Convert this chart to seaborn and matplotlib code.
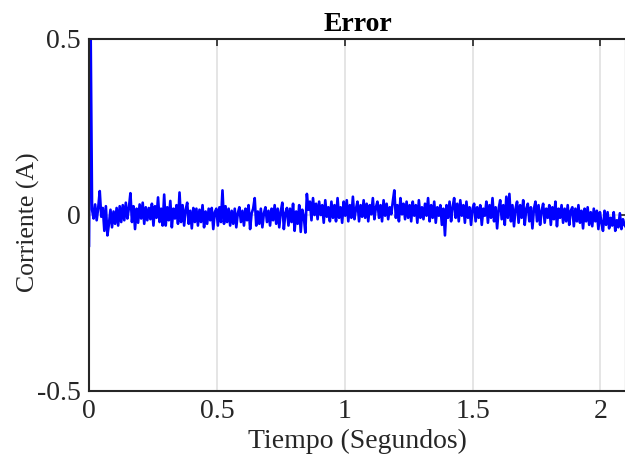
import numpy as np
import pandas as pd
import matplotlib
matplotlib.use("Agg")
import matplotlib.pyplot as plt
import seaborn as sns

title = "Error"
xlabel = "Tiempo (Segundos)"
ylabel = "Corriente (A)"
xticks = [0, 0.5, 1, 1.5, 2]
xtick_labels = ["0", "0.5", "1", "1.5", "2"]
yticks = [-0.5, 0, 0.5]
ytick_labels = ["-0.5", "0", "0.5"]
dt = 0.006

error_values = [
    -0.09, 0.56, 0.015, -0.01, 0.03, -0.015, 0.02, 0.068, -0.005, 0.02,
    -0.045, 0.025, -0.058, -0.025, 0.015, -0.035, 0.01, -0.025, 0.02, -0.03,
    0.025, -0.02, 0.028, -0.015, 0.035, -0.01, 0.02, 0.062, -0.02, 0.025,
    -0.04, 0.018, -0.022, 0.03, -0.01, 0.035, -0.025, 0.022, -0.015, 0.02,
    -0.012, 0.032, -0.03, 0.025, -0.008, 0.05, -0.02, 0.018, -0.03, 0.058,
    -0.03, 0.022, -0.015, 0.04, -0.035, 0.018, -0.01, 0.028, -0.025, 0.064,
    -0.02, 0.028, -0.03, 0.015, 0.035, -0.025, 0.012, -0.038, 0.02, -0.02,
    0.018, -0.03, 0.015, -0.02, 0.028, -0.035, 0.01, -0.025, 0.018, -0.015,
    0.02, -0.04, 0.008, 0.018, -0.03, 0.022, -0.02, 0.07, -0.025, 0.025,
    -0.02, 0.018, -0.03, 0.012, -0.025, 0.018, -0.035, 0.005, 0.022, -0.02,
    0.012, -0.03, 0.018, -0.015, 0.028, -0.04, 0.005, 0.018, 0.048, -0.03,
    0.01, -0.025, 0.018, -0.035, 0.005, 0.022, -0.02, 0.012, -0.03, 0.018,
    -0.015, 0.028, -0.025, 0.018, -0.035, 0.01, 0.035, -0.04, 0.005, 0.02,
    -0.03, 0.018, -0.02, 0.032, -0.045, 0.01, -0.025, 0.028, -0.048, 0.015,
    -0.005, -0.05, 0.06, 0.015, 0.038, -0.015, 0.048, 0.0, 0.032, -0.012,
    0.038, 0.0, 0.028, -0.022, 0.042, -0.005, 0.022, -0.018, 0.038, -0.008,
    0.028, -0.018, 0.048, -0.008, 0.022, -0.022, 0.038, -0.002, 0.042, -0.018,
    0.028, -0.008, 0.052, -0.012, 0.018, 0.038, -0.018, 0.028, -0.005, 0.042,
    -0.008, 0.032, -0.018, 0.028, 0.002, 0.048, -0.012, 0.022, 0.038, -0.008,
    0.028, -0.018, 0.042, -0.002, 0.032, -0.012, 0.022, 0.002, 0.038, 0.07,
    -0.008, 0.028, -0.018, 0.048, 0.002, 0.032, -0.012, 0.038, -0.008, 0.028,
    -0.018, 0.038, -0.002, 0.028, -0.022, 0.042, -0.008, 0.022, -0.012, 0.032,
    -0.002, 0.048, -0.018, 0.028, -0.008, 0.038, -0.022, 0.022, -0.002, 0.028,
    -0.028, 0.018, -0.058, 0.028, -0.008, 0.038, -0.018, 0.022, 0.048, -0.008,
    0.032, -0.018, 0.042, -0.002, 0.028, -0.022, 0.038, -0.008, 0.022, -0.028,
    0.018, 0.032, -0.018, 0.022, -0.008, 0.028, -0.028, 0.018, -0.002, 0.038,
    -0.022, 0.028, -0.008, 0.048, -0.018, 0.022, -0.038, 0.018, 0.042, -0.012,
    0.028, -0.028, 0.052, -0.008, 0.06, -0.018, 0.028, -0.032, 0.018, 0.038,
    -0.022, 0.028, -0.008, 0.042, -0.028, 0.018, 0.032, -0.018, 0.022, -0.038,
    0.018, 0.038, -0.018, 0.028, -0.028, 0.012, 0.032, -0.022, 0.018, -0.008,
    0.028, -0.028, 0.022, -0.012, 0.038, -0.032, 0.018, -0.008, 0.028, -0.022,
    0.018, -0.018, 0.028, -0.028, 0.012, 0.022, -0.032, 0.018, -0.018, 0.028,
    -0.022, 0.012, -0.038, 0.018, -0.018, 0.022, -0.028, 0.008, -0.032, 0.018,
    -0.018, 0.012, -0.04, 0.008, -0.022, -0.045, 0.012, -0.028, 0.008, -0.038,
    -0.008, -0.03, 0.008, -0.045, -0.015, -0.035, 0.005, -0.04, -0.012, -0.028,
    -0.035,
]

time_values = np.arange(len(error_values)) * dt
df = pd.DataFrame({"t": time_values, "e": error_values})

sns.set_style("white")
plt.rcParams["font.family"] = ["Liberation Serif", "DejaVu Serif"]

fig = plt.figure(figsize=(6.25, 4.66), dpi=100)
ax = fig.add_axes([89 / 625, 1 - 391 / 466, (626 - 89) / 625, (391 - 39) / 466])

ax.grid(True, color="#e3e3e3", linewidth=1.3)
ax.set_axisbelow(True)
sns.lineplot(data=df, x="t", y="e", ax=ax, color=(0, 0, 1), linewidth=1.9,
             estimator=None, sort=False)

ax.set_xlim(0, 2.1)
ax.set_ylim(-0.5, 0.5)
ax.set_xticks(xticks)
ax.set_xticklabels(xtick_labels)
ax.set_yticks(yticks)
ax.set_yticklabels(ytick_labels)
ax.tick_params(direction="in", length=5, width=1.2, color="#262626",
               labelsize=20, labelcolor="#262626", top=True, right=True, pad=6)
for s in ax.spines.values():
    s.set_color("#262626")
    s.set_linewidth(1.5)

ax.set_xlabel(xlabel, fontsize=20, color="#262626", labelpad=3)
ax.set_ylabel(ylabel, fontsize=18.5, color="#262626")
ax.yaxis.set_label_coords(-0.092, 0.48)
ax.set_title(title, fontsize=20, fontweight="bold", color="#000000", pad=6)

fig.savefig("out.png", dpi=100)
